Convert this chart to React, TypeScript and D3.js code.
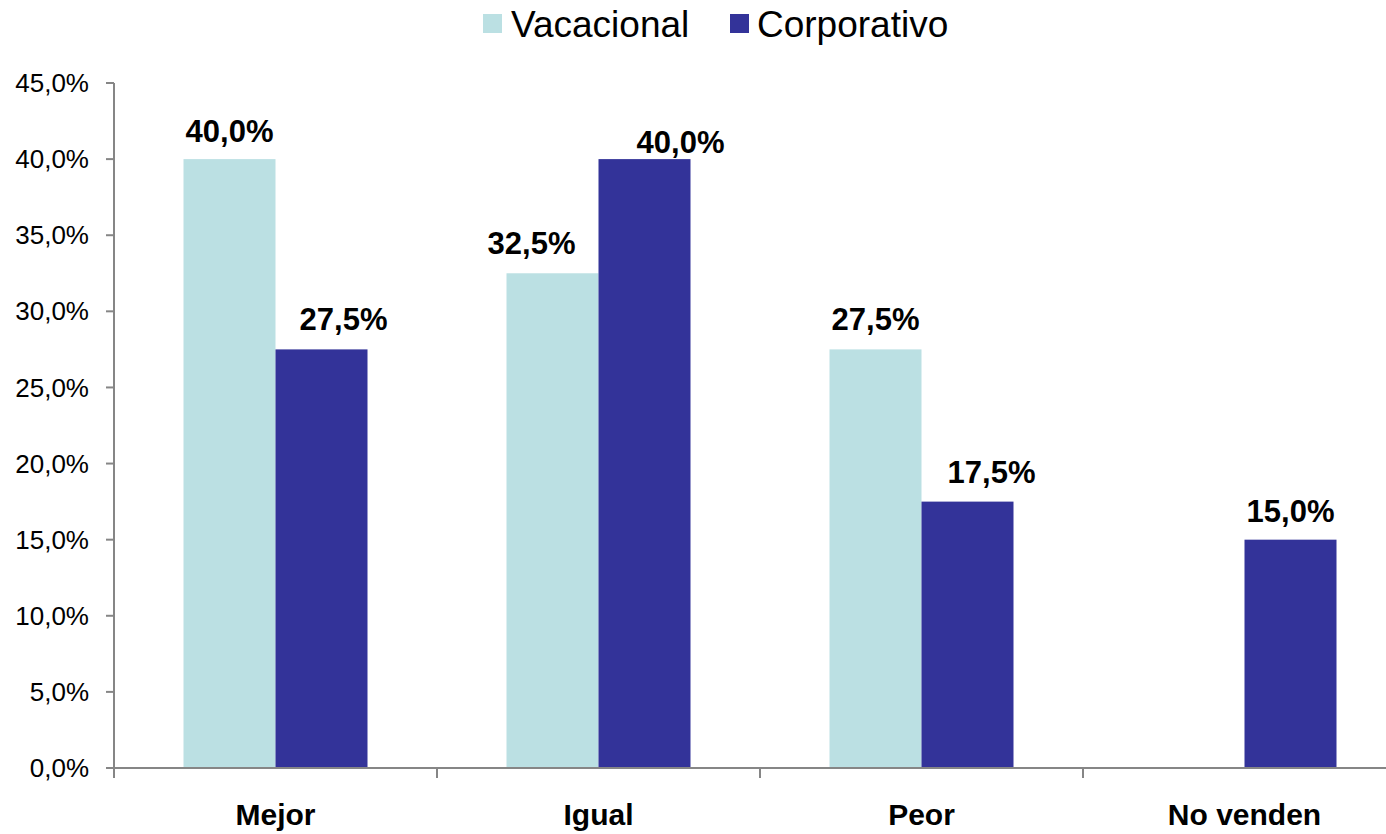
import { useMemo } from 'react'
import { scaleBand, scaleLinear, range } from 'd3'

// Barras agrupadas: Vacacional vs Corporativo por categoría.

const categories = ['Mejor', 'Igual', 'Peor', 'No venden']
const seriesNames = ['Vacacional', 'Corporativo']
const vacacional: (number | null)[] = [40.0, 32.5, 27.5, null]
const corporativo: (number | null)[] = [27.5, 40.0, 17.5, 15.0]
const yTicks = range(0, 45.01, 5)

// desplazamientos manuales de las etiquetas (como en el original)
const labelDx = [
  [0, -21, 0, 0],
  [22, 36, 24, 0],
]
const labelDy = [
  [-17, -19, -19, 0],
  [-19, -6, -19, -18],
]

const COLORS = ['#BBE0E3', '#333399']
const W = 1386
const H = 834
const MARGIN = { top: 83, left: 114, bottom: 834 - 768 }
const BAND = 323
const FONT = "'Liberation Sans', Arial, sans-serif"

const fmt = (v: number) => `${v.toFixed(1).replace('.', ',')}%`

export default function App() {
  const plotW = BAND * categories.length
  const plotH = H - MARGIN.top - MARGIN.bottom

  const x = useMemo(
    () => scaleBand().domain(categories).range([0, plotW]).paddingInner(0).paddingOuter(0),
    [plotW],
  )
  const x1 = useMemo(
    () => scaleBand().domain(seriesNames).range([69.5, BAND - 69.5]).padding(0),
    [],
  )
  const y = useMemo(() => scaleLinear().domain([0, 45]).range([plotH, 0]), [plotH])

  const series = [vacacional, corporativo]

  return (
    <div style={{ position: 'absolute', left: 0, top: 0 }}>
      <svg width={W} height={H} style={{ display: 'block' }} fontFamily={FONT}>
        <rect width={W} height={H} fill="#fff" />
        {/* leyenda */}
        <g>
          <rect x={483} y={14} width={19} height={19} fill={COLORS[0]} />
          <text x={511} y={37} fontSize={37} fill="#000">{seriesNames[0]}</text>
          <rect x={730} y={14} width={19} height={19} fill={COLORS[1]} />
          <text x={757} y={37} fontSize={37} fill="#000">{seriesNames[1]}</text>
        </g>
        <g transform={`translate(${MARGIN.left}, ${MARGIN.top})`}>
          {series.map((vals, si) =>
            vals.map((v, ci) => {
              if (v == null) return null
              const bx = (x(categories[ci]) ?? 0) + (x1(seriesNames[si]) ?? 0)
              const bw = x1.bandwidth()
              return (
                <g key={`${si}-${ci}`}>
                  <rect x={bx} y={y(v)} width={bw} height={plotH - y(v)} fill={COLORS[si]} />
                  <text
                    x={bx + bw / 2 + labelDx[si][ci]}
                    y={y(v) + labelDy[si][ci]}
                    textAnchor="middle"
                    fontSize={31}
                    fontWeight="bold"
                    fill="#000"
                  >
                    {fmt(v)}
                  </text>
                </g>
              )
            }),
          )}
          {/* eje y */}
          <line x1={0} x2={0} y1={0} y2={plotH} stroke="#868686" strokeWidth={2} />
          {yTicks.map((t) => (
            <g key={t} transform={`translate(0, ${y(t)})`}>
              <line x1={-8} x2={0} stroke="#868686" strokeWidth={2} />
              <text x={-25} dy="0.35em" textAnchor="end" fontSize={26} fill="#000">
                {fmt(t)}
              </text>
            </g>
          ))}
          {/* eje x */}
          <line x1={0} x2={plotW} y1={plotH} y2={plotH} stroke="#868686" strokeWidth={2} />
          {range(categories.length + 1).map((i) => (
            <line key={i} x1={i * BAND} x2={i * BAND} y1={plotH} y2={plotH + 10} stroke="#868686" strokeWidth={2} />
          ))}
          {categories.map((c) => (
            <text
              key={c}
              x={(x(c) ?? 0) + x.bandwidth() / 2}
              y={plotH + 57}
              textAnchor="middle"
              fontSize={30}
              fontWeight="bold"
              fill="#000"
            >
              {c}
            </text>
          ))}
        </g>
      </svg>
    </div>
  )
}
